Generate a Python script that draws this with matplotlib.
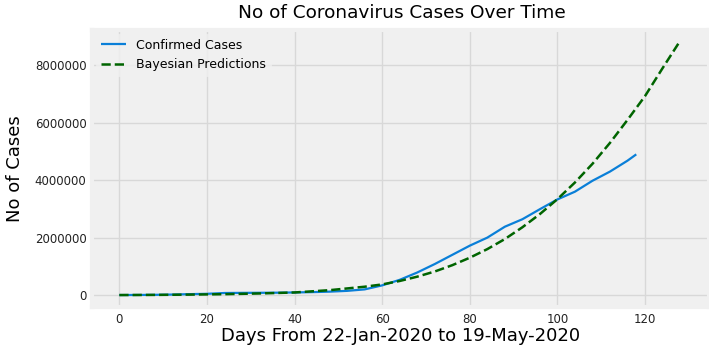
import matplotlib.pyplot as plt
import numpy as np

plt.style.use('fivethirtyeight')

days = [0, 4, 8, 12, 16, 20, 24, 28, 32, 36, 40, 44, 48, 52, 56, 60, 64, 68,
        72, 76, 80, 84, 88, 92, 96, 100, 104, 108, 112, 116, 118]
confirmed = [555, 2800, 7800, 17000, 31000, 43000, 71000, 75600, 78600, 82000,
             90300, 101800, 118000, 146000, 197000, 337000, 530000, 785000,
             1080000, 1400000, 1720000, 2000000, 2380000, 2640000, 2990000,
             3330000, 3600000, 3980000, 4300000, 4680000, 4900000]

pred_days = [0, 8, 16, 24, 32, 40, 48, 56, 60, 64, 68, 72, 76, 80, 84, 88, 92,
             96, 100, 104, 108, 112, 116, 120, 124, 128]
predictions = [0, 5000, 15000, 30000, 55000, 90000, 170000, 290000, 370000,
               490000, 640000, 820000, 1040000, 1300000, 1600000, 1950000,
               2360000, 2820000, 3340000, 3920000, 4570000, 5300000, 6100000,
               6930000, 7900000, 8850000]

fig = plt.figure(figsize=(7.09, 3.53), dpi=100, facecolor='white')
ax = fig.add_axes([0.130, 0.130, 0.870, 0.785])
ax.set_facecolor('#f0f0f0')

ax.plot(days, confirmed, color='#0a7fd8', lw=1.6, label='Confirmed Cases')
ax.plot(pred_days, predictions, color='darkgreen', lw=1.8, ls='--',
        label='Bayesian Predictions')

ax.set_xlim(-6.2, 134.6)
ax.set_ylim(-420000, 9230000)
ax.set_xticks([0, 20, 40, 60, 80, 100, 120])
ax.set_yticks([0, 2000000, 4000000, 6000000, 8000000])
ax.ticklabel_format(axis='y', style='plain')
ax.tick_params(labelsize=8.5, pad=4, labelcolor='#222222')
ax.grid(True, color='#d8d8d8', lw=1)

fig.suptitle('No of Coronavirus Cases Over Time', fontsize=13.3, x=0.567, y=0.99)
ax.set_xlabel('Days From 22-Jan-2020 to 19-May-2020', fontsize=13, labelpad=1)
ax.set_ylabel('No of Cases', fontsize=13, labelpad=8)

leg = ax.legend(loc='upper left', fontsize=9, frameon=True, facecolor='#f0f0f0',
                edgecolor='#f0f0f0', borderaxespad=0.3)

fig.savefig('out.png', dpi=100, facecolor='white')
